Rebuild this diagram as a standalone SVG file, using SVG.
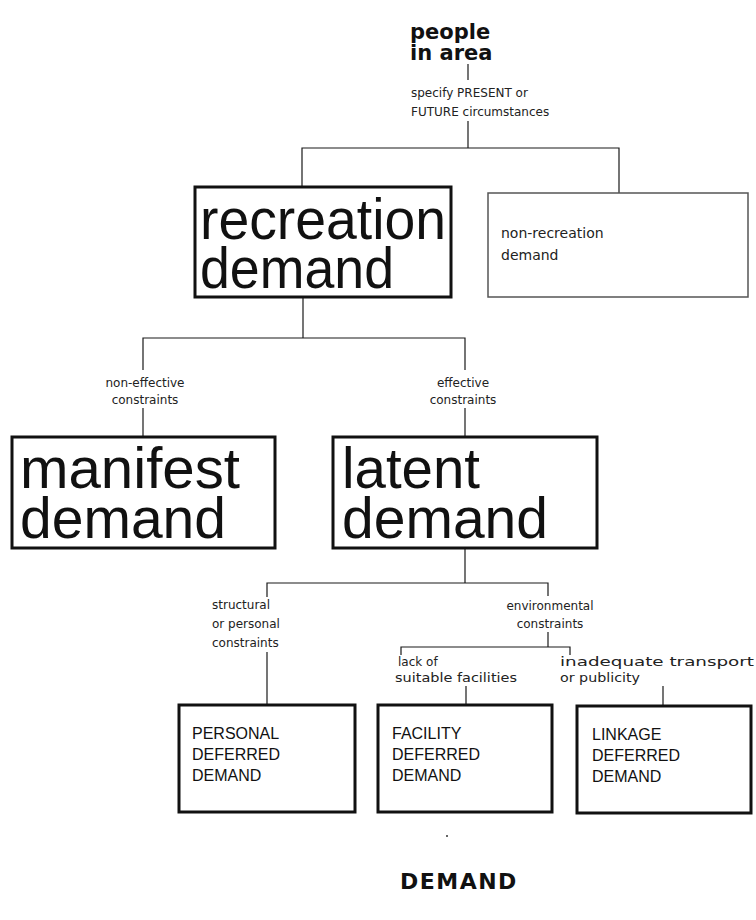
<svg xmlns="http://www.w3.org/2000/svg" width="756" height="920" viewBox="0 0 756 920">
<style>
.bg{fill:#fff}
.line{stroke:#1a1a1a;stroke-width:1.2;fill:none}
.thick{fill:#fff;stroke:#111;stroke-width:3}
.thin{fill:#fff;stroke:#555;stroke-width:1.5}
.big{font-family:"Liberation Sans",Arial,sans-serif;font-size:57px;fill:#111}
.cap{font-family:"Liberation Sans",Arial,sans-serif;font-size:16px;fill:#111}
.small{font-family:"DejaVu Sans",Verdana,sans-serif;font-size:12px;fill:#222}
.mid{font-family:"DejaVu Sans",Verdana,sans-serif;font-size:14px;fill:#222}
.head{font-family:"DejaVu Sans",Verdana,sans-serif;font-weight:bold;fill:#111}
.c{text-anchor:middle}
</style>
<rect class="bg" x="0" y="0" width="756" height="920"/>
<g id="connectors">
<path class="line" d="M468 64V80"/>
<path class="line" d="M468 121V148"/>
<path class="line" d="M302 187V148H619V193"/>
<path class="line" d="M303 297V338"/>
<path class="line" d="M143 370V338H465V370"/>
<path class="line" d="M143 408V437"/>
<path class="line" d="M465 408V437"/>
<path class="line" d="M465 548V583"/>
<path class="line" d="M267 597V583H548V596"/>
<path class="line" d="M267 652V705"/>
<path class="line" d="M548 632V647"/>
<path class="line" d="M401 655V647H570V655"/>
<path class="line" d="M466 686V705"/>
<path class="line" d="M663 686V706"/>
</g>
<g id="people">
<text class="head" x="410" y="39" font-size="21">people<tspan x="410" y="60">in area</tspan></text>
</g>
<g id="circumstances">
<text class="small" x="411" y="97">specify PRESENT or<tspan x="411" y="116">FUTURE circumstances</tspan></text>
</g>
<g id="recreation">
<rect class="thick" x="195" y="187" width="256" height="110"/>
<text class="big"><tspan x="200" y="239" textLength="246" lengthAdjust="spacingAndGlyphs">recreation</tspan><tspan x="200" y="288" textLength="194" lengthAdjust="spacingAndGlyphs">demand</tspan></text>
</g>
<g id="nonrecreation">
<rect class="thin" x="488" y="193" width="260" height="104"/>
<text class="mid" x="501" y="238">non-recreation<tspan x="501" y="260">demand</tspan></text>
</g>
<g id="label-noneffective">
<text class="small c" x="145" y="387">non-effective<tspan x="145" y="404">constraints</tspan></text>
</g>
<g id="label-effective">
<text class="small c" x="463" y="387">effective<tspan x="463" y="404">constraints</tspan></text>
</g>
<g id="manifest">
<rect class="thick" x="12" y="437" width="263" height="111"/>
<text class="big"><tspan x="20" y="488" textLength="220" lengthAdjust="spacingAndGlyphs">manifest</tspan><tspan x="20" y="538" textLength="206" lengthAdjust="spacingAndGlyphs">demand</tspan></text>
</g>
<g id="latent">
<rect class="thick" x="333" y="437" width="264" height="111"/>
<text class="big"><tspan x="342" y="488" textLength="138" lengthAdjust="spacingAndGlyphs">latent</tspan><tspan x="342" y="538" textLength="206" lengthAdjust="spacingAndGlyphs">demand</tspan></text>
</g>
<g id="label-structural">
<text class="small" x="212" y="609">structural<tspan x="212" y="628">or personal</tspan><tspan x="212" y="647">constraints</tspan></text>
</g>
<g id="label-environmental">
<text class="small c" x="550" y="610">environmental<tspan x="550" y="628">constraints</tspan></text>
</g>
<g id="label-lack">
<text class="small" x="398" y="666">lack of<tspan x="395" y="682" textLength="122" lengthAdjust="spacingAndGlyphs">suitable facilities</tspan></text>
</g>
<g id="label-inadequate">
<text class="small"><tspan x="560" y="666" textLength="194" lengthAdjust="spacingAndGlyphs">inadequate transport</tspan><tspan x="560" y="682" textLength="80" lengthAdjust="spacingAndGlyphs">or publicity</tspan></text>
</g>
<g id="personal">
<rect class="thick" x="179" y="705" width="176" height="107"/>
<text class="cap" x="192" y="739">PERSONAL<tspan x="192" y="760">DEFERRED</tspan><tspan x="192" y="781">DEMAND</tspan></text>
</g>
<g id="facility">
<rect class="thick" x="378" y="705" width="174" height="107"/>
<text class="cap" x="392" y="739">FACILITY<tspan x="392" y="760">DEFERRED</tspan><tspan x="392" y="781">DEMAND</tspan></text>
</g>
<g id="linkage">
<rect class="thick" x="577" y="706" width="174" height="107"/>
<text class="cap" x="592" y="740">LINKAGE<tspan x="592" y="761">DEFERRED</tspan><tspan x="592" y="782">DEMAND</tspan></text>
</g>
<circle cx="447" cy="836" r="1" fill="#333"/>
<g id="title">
<text class="head" x="400" y="889" font-size="22" letter-spacing="1.5">DEMAND</text>
</g>
</svg>
